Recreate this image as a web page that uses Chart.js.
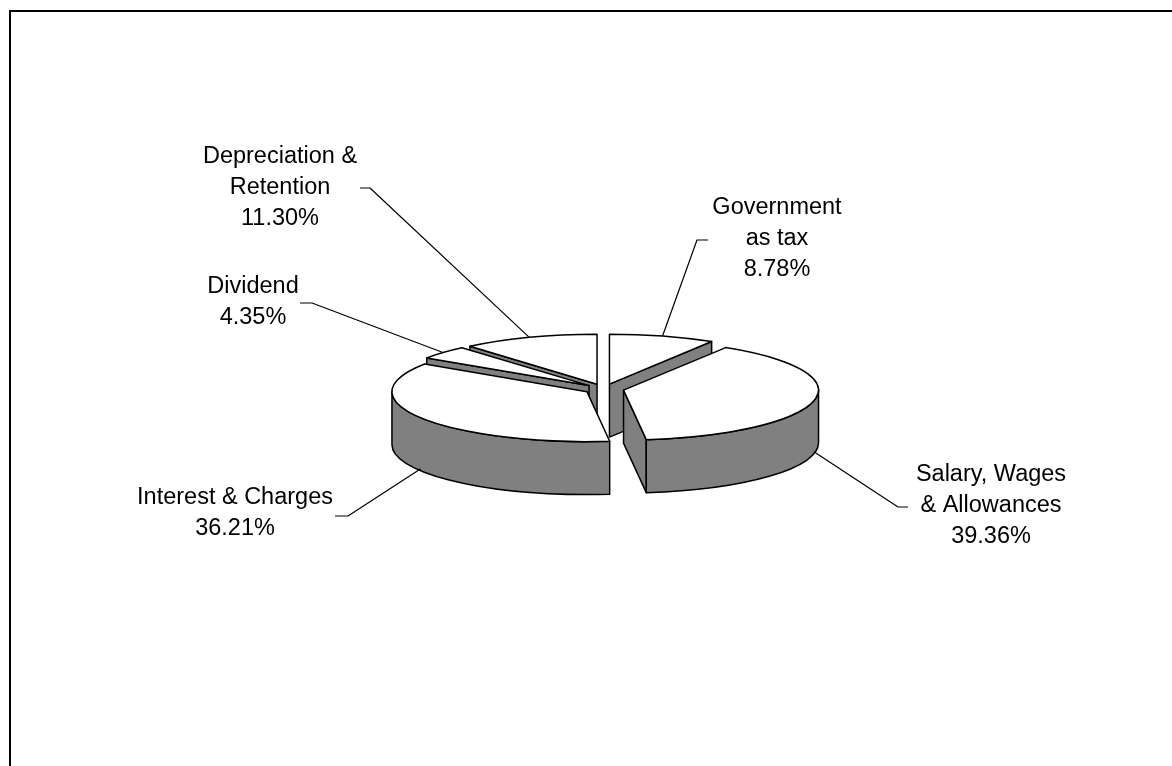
<!DOCTYPE html>
<html>
<head>
<meta charset="utf-8">
<script src="https://cdn.jsdelivr.net/npm/chart.js@4"></script>
<style>
    html, body { margin: 0; padding: 0; background: #ffffff; }
    #pie { display: block; }
</style>
</head>
<body>
<canvas id="pie" width="1172" height="766"></canvas>
<script>
// Slice data (clockwise from 12 o'clock)
const categories = ['Government\nas tax', 'Salary, Wages\n& Allowances', 'Interest & Charges', 'Dividend', 'Depreciation &\nRetention'];
const shares = [8.78, 39.36, 36.21, 4.35, 11.30];

// 3D look
const TILT = 0.256;      // vertical squash of the pie
const DEPTH = 53;        // wall height in px
const WALL = '#808080';

// Label placement: text centre x, first line centre y, elbow start/end
const labelLayout = [
    { x: 777, y: 208, elbow: [[708, 240], [697, 240]] },
    { x: 991, y: 475, elbow: [[908, 507], [898, 507]] },
    { x: 235, y: 498, elbow: [[335, 516], [348, 516]] },
    { x: 253, y: 287, elbow: [[300, 303], [312, 303]] },
    { x: 280, y: 157, elbow: [[360, 188], [370, 188]] }
];

const framePlugin = {
    id: 'frame',
    beforeDraw(chart) {
        const ctx = chart.ctx;
        ctx.save();
        ctx.fillStyle = '#ffffff';
        ctx.fillRect(0, 0, chart.width, chart.height);
        ctx.fillStyle = '#000000';
        ctx.fillRect(9, 10, chart.width - 9, 2);
        ctx.fillRect(9, 10, 2, chart.height - 10);
        ctx.restore();
    }
};

function slicePath(ctx, cx, cy, r, a0, a1) {
    ctx.beginPath();
    ctx.moveTo(cx, cy);
    ctx.ellipse(cx, cy, r, r * TILT, 0, a0, a1);
    ctx.closePath();
}

function facePath(ctx, cx, cy, r, a) {
    const px = cx + r * Math.cos(a);
    const py = cy + r * TILT * Math.sin(a);
    ctx.beginPath();
    ctx.moveTo(cx, cy);
    ctx.lineTo(px, py);
    ctx.lineTo(px, py + DEPTH);
    ctx.lineTo(cx, cy + DEPTH);
    ctx.closePath();
}

function paint(ctx) {
    ctx.fill();
    ctx.stroke();
}

const pie3dPlugin = {
    id: 'pie3d',
    beforeDatasetsDraw(chart) {
        const ctx = chart.ctx;
        const meta = chart.getDatasetMeta(0);

        const slices = meta.data.map((el, i) => {
            const p = el.getProps(['x', 'y', 'startAngle', 'endAngle', 'outerRadius'], true);
            const mid = (p.startAngle + p.endAngle) / 2;
            const off = el.options.offset || 0;
            return {
                i: i,
                s: p.startAngle,
                e: p.endAngle,
                r: p.outerRadius,
                mid: mid,
                cx: p.x + off * Math.cos(mid),
                cy: p.y + off * TILT * Math.sin(mid)
            };
        });

        ctx.save();
        ctx.lineWidth = 1.5;
        ctx.strokeStyle = '#000000';
        ctx.lineJoin = 'round';

        // back to front
        const order = slices.slice().sort((a, b) => Math.sin(a.mid) - Math.sin(b.mid));
        order.forEach(sl => {
            ctx.fillStyle = WALL;
            if (Math.cos(sl.s) < -1e-6) { facePath(ctx, sl.cx, sl.cy, sl.r, sl.s); paint(ctx); }
            if (Math.cos(sl.e) > 1e-6) { facePath(ctx, sl.cx, sl.cy, sl.r, sl.e); paint(ctx); }

            const w0 = Math.max(sl.s, 0);
            const w1 = Math.min(sl.e, Math.PI);
            if (w1 > w0) {
                ctx.beginPath();
                ctx.ellipse(sl.cx, sl.cy, sl.r, sl.r * TILT, 0, w0, w1);
                ctx.lineTo(sl.cx + sl.r * Math.cos(w1), sl.cy + sl.r * TILT * Math.sin(w1) + DEPTH);
                ctx.ellipse(sl.cx, sl.cy + DEPTH, sl.r, sl.r * TILT, 0, w1, w0, true);
                ctx.closePath();
                paint(ctx);
            }

            ctx.fillStyle = '#ffffff';
            slicePath(ctx, sl.cx, sl.cy, sl.r, sl.s, sl.e);
            paint(ctx);
        });

        // leader lines and labels
        ctx.lineWidth = 1.2;
        ctx.font = '23.5px "Liberation Sans", Arial, sans-serif';
        ctx.fillStyle = '#000000';
        ctx.textAlign = 'center';
        ctx.textBaseline = 'middle';
        slices.forEach(sl => {
            const lay = labelLayout[sl.i];
            let ex = sl.cx + sl.r * Math.cos(sl.mid);
            let ey = sl.cy + sl.r * TILT * Math.sin(sl.mid);
            if (Math.sin(sl.mid) > 0) ey += DEPTH - 2;

            ctx.beginPath();
            ctx.moveTo(lay.elbow[0][0], lay.elbow[0][1]);
            ctx.lineTo(lay.elbow[1][0], lay.elbow[1][1]);
            ctx.lineTo(ex, ey);
            ctx.stroke();

            const lines = chart.data.labels[sl.i].split('\n');
            lines.push(shares[sl.i].toFixed(2) + '%');
            lines.forEach((t, k) => ctx.fillText(t, lay.x, lay.y + k * 31));
        });

        ctx.restore();
        return false;
    }
};

new Chart(document.getElementById('pie'), {
    type: 'pie',
    data: {
        labels: categories,
        datasets: [{
            data: shares,
            backgroundColor: '#ffffff',
            borderColor: '#000000',
            borderWidth: 1,
            offset: 20
        }]
    },
    options: {
        responsive: false,
        animation: false,
        radius: 195,
        layout: { padding: { left: 236, right: 200, top: 12, bottom: 0 } },
        plugins: {
            legend: { display: false },
            tooltip: { enabled: false }
        }
    },
    plugins: [framePlugin, pie3dPlugin]
});
</script>
</body>
</html>
